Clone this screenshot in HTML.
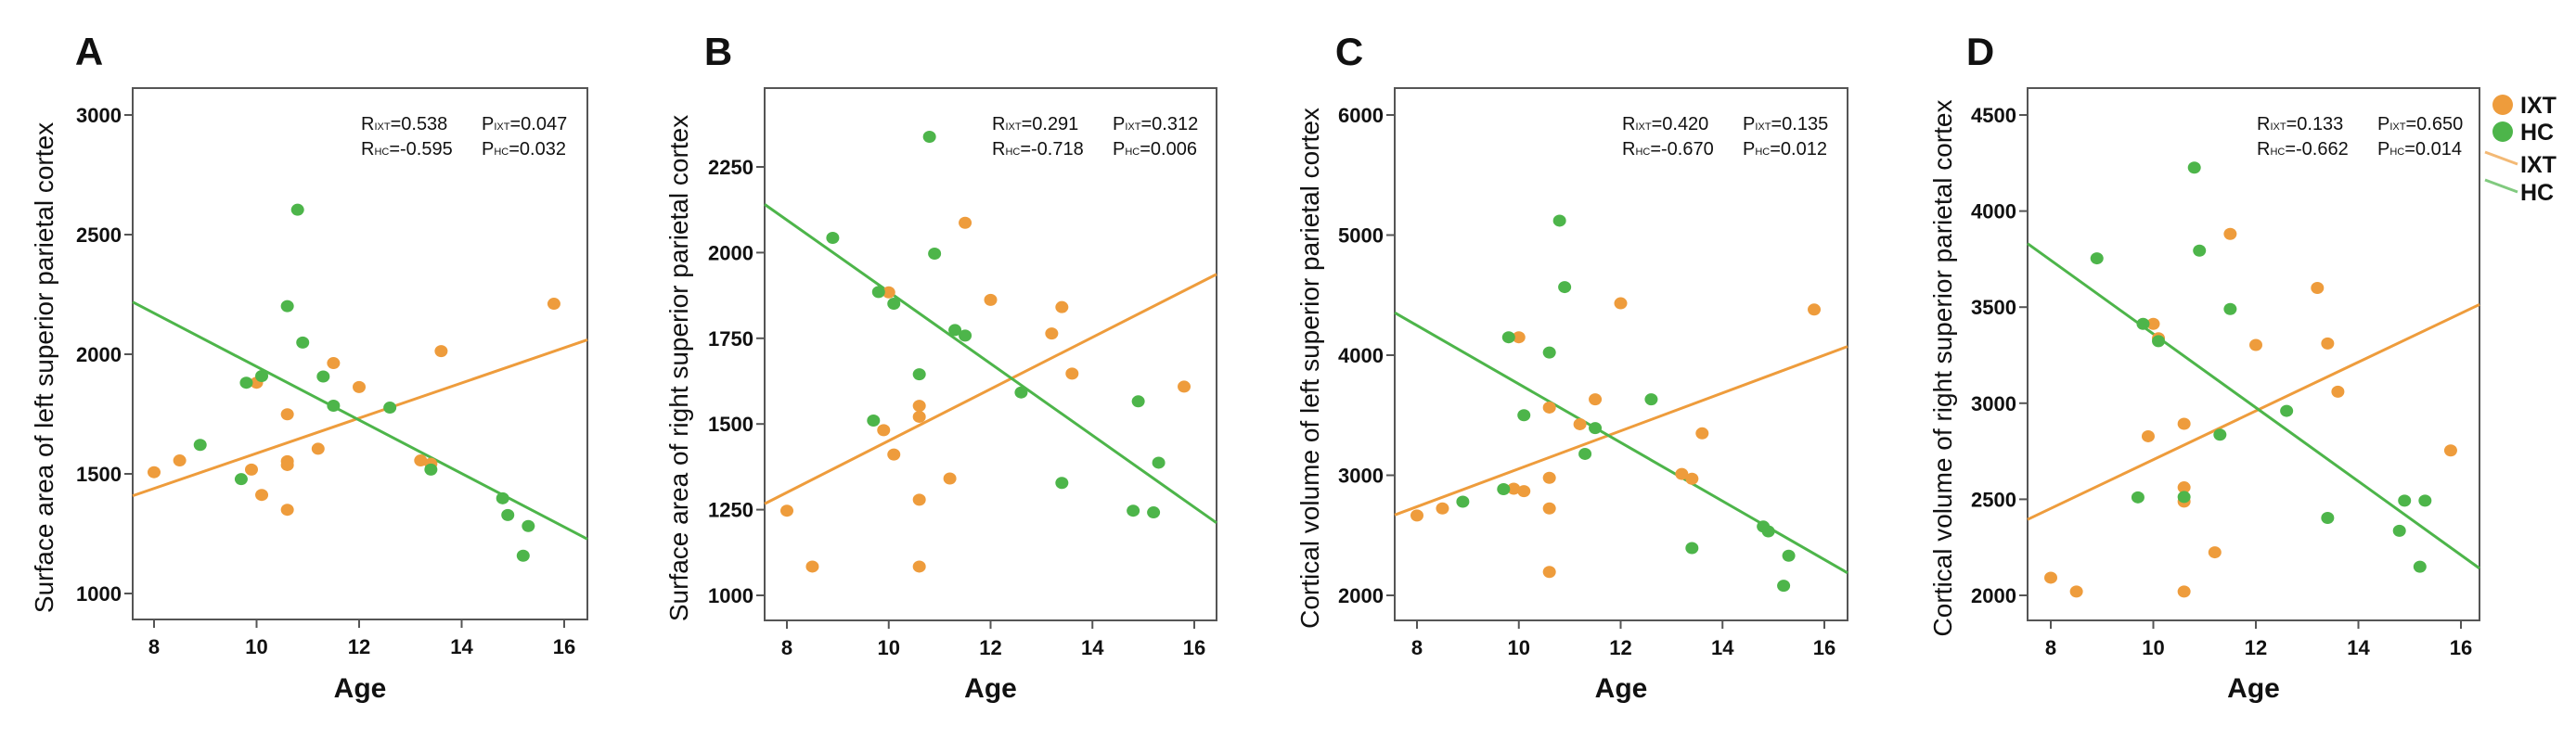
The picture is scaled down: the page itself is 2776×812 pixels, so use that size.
<!DOCTYPE html>
<html><head><meta charset="utf-8"><style>
html,body{margin:0;padding:0;background:#fff;}
svg{display:block;font-family:"Liberation Sans",Arial,sans-serif;}
</style></head><body>
<svg id="fig" width="2776" height="812" viewBox="0 0 2776 812" xmlns="http://www.w3.org/2000/svg"></svg>
<script>
// ---- data (age, value) per panel ----
const agesIxt = [8.0,8.5,9.9,10.0,10.1,10.6,10.6,10.6,10.6,11.2,11.5,12.0,13.2,13.4,13.6,15.8];
const agesHc  = [8.9,9.7,9.8,10.1,10.6,10.8,10.9,11.3,11.5,12.6,13.4,14.8,14.9,15.2,15.3];
const aIxtA = [1507,1556,1518,1881,1412,1749,1553,1537,1350,1605,1963,1863,1556,1542,2013,2211];
const aHcA  = [1621,1478,1881,1909,2201,2604,2049,1907,1785,1777,1518,1398,1328,1158,1282];
const aIxtB = [1247,1084,1482,1884,1411,1553,1521,1279,1084,1341,2087,1862,1764,1841,1647,1609];
const aHcB  = [2043,1510,1885,1851,1645,2338,1997,1774,1758,1592,1328,1247,1566,1242,1387];
const aIxtC = [2665,2724,2888,4149,2868,3564,2979,2724,2195,3425,3632,4432,3011,2971,3349,4380];
const aHcC  = [2780,2884,4149,3500,4022,5120,4567,3178,3393,3632,2394,2573,2533,2080,2330];
const aIxtD = [2092,2020,2828,3413,3338,2893,2562,2488,2020,2224,3881,3303,3600,3311,3060,2754];
const aHcD  = [3754,2510,3413,3323,2512,4226,3794,2836,3490,2960,2403,2336,2493,2149,2493];
const xTicks = [8,10,12,14,16];
const yTicksA = [1000,1500,2000,2500,3000];
const yTicksB = [1000,1250,1500,1750,2000,2250];
const yTicksC = [2000,3000,4000,5000,6000];
const yTicksD = [2000,2500,3000,3500,4000,4500];
const statsA = ["0.538","0.047","-0.595","0.032"];
const statsB = ["0.291","0.312","-0.718","0.006"];
const statsC = ["0.420","0.135","-0.670","0.012"];
const statsD = ["0.133","0.650","-0.662","0.014"];

const ORANGE="#EE9C3C", GREEN="#4DB54A";
const NS="http://www.w3.org/2000/svg";
const svg=document.getElementById('fig');
function mk(tag,attrs,parent){const e=document.createElementNS(NS,tag);for(const k in attrs)e.setAttribute(k,attrs[k]);(parent||svg).appendChild(e);return e;}

const panels=[
 {id:'a',letter:'A',lx:96,title:'Surface area of left superior parietal cortex',tx:47,box:[143,95,633,668],xc:[166,608],yc:[1000,640,3000,124],yt:yTicksA,ix:aIxtA,hc:aHcA,st:statsA,sx:389},
 {id:'b',letter:'B',lx:774,title:'Surface area of right superior parietal cortex',tx:731,box:[824,95,1311,669],xc:[848,1287],yc:[1000,642,2250,180],yt:yTicksB,ix:aIxtB,hc:aHcB,st:statsB,sx:1069},
 {id:'c',letter:'C',lx:1454,title:'Cortical volume of left superior parietal cortex',tx:1411,box:[1503,95,1991,669],xc:[1527,1966],yc:[2000,642,6000,124],yt:yTicksC,ix:aIxtC,hc:aHcC,st:statsC,sx:1748},
 {id:'d',letter:'D',lx:2134,title:'Cortical volume of right superior parietal cortex',tx:2093,box:[2185,95,2672,669],xc:[2210,2652],yc:[2000,642,4500,124],yt:yTicksD,ix:aIxtD,hc:aHcD,st:statsD,sx:2432}
];

function fit(xs,ys){const n=xs.length;let mx=0,my=0;for(let i=0;i<n;i++){mx+=xs[i];my+=ys[i];}mx/=n;my/=n;let sxy=0,sxx=0;for(let i=0;i<n;i++){sxy+=(xs[i]-mx)*(ys[i]-my);sxx+=(xs[i]-mx)**2;}const b=sxy/sxx;return [my-b*mx,b];}

panels.forEach(p=>{
  const [L,T,R,B]=p.box;
  const X=v=>p.xc[0]+(v-8)*(p.xc[1]-p.xc[0])/8;
  const Y=v=>p.yc[1]+(v-p.yc[0])*(p.yc[3]-p.yc[1])/(p.yc[2]-p.yc[0]);
  const Xinv=px=>8+(px-p.xc[0])*8/(p.xc[1]-p.xc[0]);
  const g=mk('g',{});
  
  
  const lt=mk('text',{x:p.lx,y:70,'font-size':42,'font-weight':'bold','text-anchor':'middle',fill:'#111'},g);lt.textContent=p.letter;
  
  
  const tt=mk('text',{x:0,y:0,'font-size':28,'text-anchor':'middle',fill:'#111',transform:`translate(${p.tx+10},${(T+B)/2+15}) rotate(-90)`},g);tt.textContent=p.title;
  
  
  const at=mk('text',{x:(L+R)/2,y:752,'font-size':30,'font-weight':'bold','text-anchor':'middle',fill:'#111'},g);at.textContent='Age';
  
  
  const bx=mk('rect',{x:L,y:T,width:R-L,height:B-T,fill:'#fff',stroke:'#555','stroke-width':2},g);
  
  
  xTicks.forEach(t=>{
    const x=X(t);
    const tk=mk('line',{x1:x,y1:B,x2:x,y2:B+9,stroke:'#555','stroke-width':2},g);
    
    
    const tl=mk('text',{x:x,y:B+37,'font-size':22,'font-weight':'bold','text-anchor':'middle',fill:'#111'},g);tl.textContent=t;
    
    
  });
  p.yt.forEach(t=>{
    const y=Y(t);
    const tk=mk('line',{x1:L-9,y1:y,x2:L,y2:y,stroke:'#555','stroke-width':2},g);
    
    
    const tl=mk('text',{x:L-12,y:y+8,'font-size':22,'font-weight':'bold','text-anchor':'end',fill:'#111'},g);tl.textContent=t;
    
    
  });
  // regression lines
  [[p.ix,agesIxt,ORANGE,'ixt'],[p.hc,agesHc,GREEN,'hc']].forEach(([ys,xs,c,nm])=>{
    const [a,b]=fit(xs,ys);const x0=Xinv(L),x1=Xinv(R);
    const ln=mk('line',{x1:L,y1:Y(a+b*x0),x2:R,y2:Y(a+b*x1),stroke:c,'stroke-width':3},g);
    
    
  });
  // points
  [[p.ix,agesIxt,ORANGE,'ixt'],[p.hc,agesHc,GREEN,'hc']].forEach(([ys,xs,c,nm])=>{
    ys.forEach((v,i)=>{
      const pt=mk('ellipse',{cx:X(xs[i]),cy:Y(v),rx:7,ry:6.5,fill:c},g);
      
      
    });
  });
  // stats
  const s=p.st;
  const rows=[['R','IXT',s[0],'P','IXT',s[1],140],['R','HC',s[2],'P','HC',s[3],167]];
  rows.forEach((r,ri)=>{
    const t1=mk('text',{x:p.sx,y:r[6],'font-size':20,fill:'#111'},g);
    t1.innerHTML=`${r[0]}<tspan font-size="11">${r[1]}</tspan>=${r[2]}`;
    
    
    const t2=mk('text',{x:p.sx+130,y:r[6],'font-size':20,fill:'#111'},g);
    t2.innerHTML=`${r[3]}<tspan font-size="11">${r[4]}</tspan>=${r[5]}`;
    
    
  });
});
// legend
const lg=mk('g',{});


const items=[['circle',ORANGE,'IXT',113],['circle',GREEN,'HC',142],['line',ORANGE,'IXT',177],['line',GREEN,'HC',207]];
items.forEach(([k,c,lab,y])=>{
  if(k==='circle'){const e=mk('circle',{cx:2697,cy:y,r:11,fill:c},lg);}
  else{const e=mk('line',{x1:2678,y1:y-13,x2:2713,y2:y,stroke:c,'stroke-width':3,opacity:0.7},lg);}
  const t=mk('text',{x:2716,y:y+9,'font-size':25,'font-weight':'bold',fill:'#111'},lg);t.textContent=lab;
  
  
});
</script>
</body></html>
